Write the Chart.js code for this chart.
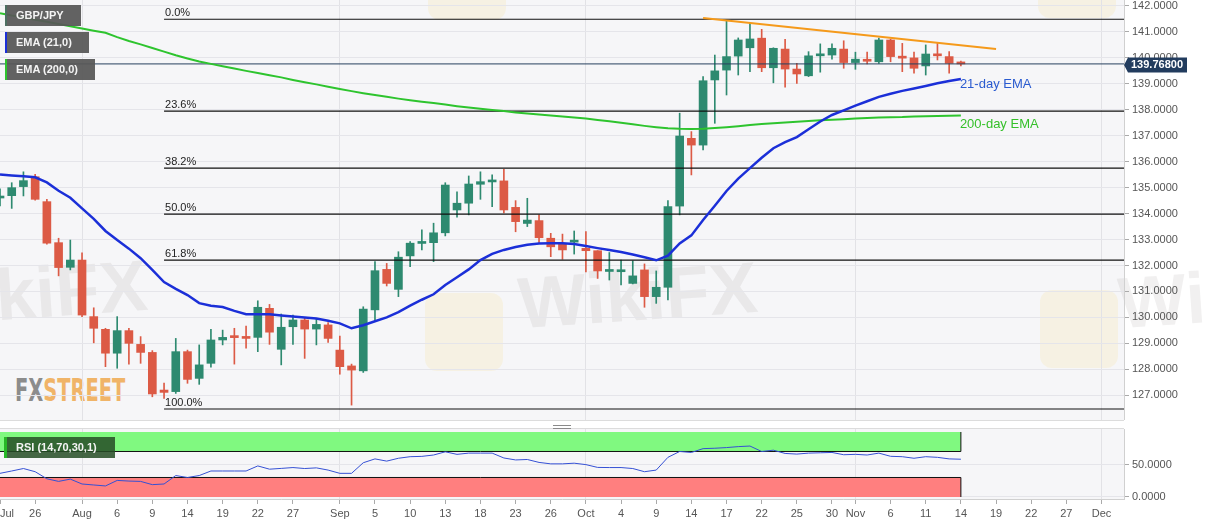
<!DOCTYPE html>
<html>
<head>
<meta charset="utf-8">
<script src="https://cdn.jsdelivr.net/npm/chart.js@4.4.0/dist/chart.umd.min.js"></script>
<style>
html,body{margin:0;padding:0;background:#fff;width:1207px;height:526px;overflow:hidden;}
#wrap{position:relative;width:1207px;height:526px;font-family:'Liberation Sans',Arial,sans-serif;}
.pane{position:absolute;background:#f6f6f8;}
canvas{position:absolute;left:0;}
.wm{position:absolute;font:bold 72px 'Liberation Sans',Arial,sans-serif;color:rgba(140,130,130,0.12);transform:rotate(-4deg);white-space:nowrap;}
.logo{position:absolute;width:78px;height:78px;border-radius:12px;background:rgba(250,215,120,0.16);}
.tag{position:absolute;height:21px;box-sizing:border-box;color:#f4f4f4;font:bold 11px 'Liberation Sans',Arial,sans-serif;line-height:21px;padding-left:9px;background:rgba(88,88,88,0.94);white-space:nowrap;z-index:5;}
#fxs{position:absolute;left:15px;top:371px;font:bold 32px 'Liberation Sans Narrow','DejaVu Sans Condensed',sans-serif;white-space:nowrap;transform-origin:0 0;}
#handle{position:absolute;left:553px;top:425px;width:18px;height:2px;border-top:1px solid #8a8a8a;border-bottom:1px solid #8a8a8a;}
</style>
</head>
<body>
<div id="wrap">
  <div class="pane" style="left:0;top:0;width:1124px;height:420px;border-bottom:1px solid #dcdcdc;"></div>
  <div class="pane" style="left:0;top:428px;width:1124px;height:71px;border-top:1px solid #dcdcdc;"></div>
  <div class="logo" style="left:428px;top:-58px;"></div>
  <div class="logo" style="left:1038px;top:-60px;"></div>
  <div class="logo" style="left:425px;top:293px;"></div>
  <div class="logo" style="left:1040px;top:290px;"></div>
  <div class="wm" style="left:-92px;top:252px;">WikiFX</div>
  <div class="wm" style="left:518px;top:254px;">WikiFX</div>
  <div class="wm" style="left:1118px;top:254px;">WikiFX</div>
  <div id="fxs"><span style="color:#8c8c8c">FX</span><span style="color:#f0b468">STREET</span></div>
  <div id="handle"></div>
  <canvas id="main" width="1207" height="420" style="top:0;width:1207px;height:420px;"></canvas>
  <canvas id="rsiChart" width="1207" height="102" style="top:424px;width:1207px;height:102px;"></canvas>
  <div class="tag" style="left:5px;top:5px;width:76px;border-left:2px solid #4d6f62;">GBP/JPY</div>
  <div class="tag" style="left:5px;top:32px;width:84px;border-left:2px solid #1b2fd8;">EMA (21,0)</div>
  <div class="tag" style="left:5px;top:59px;width:90px;border-left:2px solid #2ec42e;">EMA (200,0)</div>
  <div class="tag" style="left:4px;top:437px;width:111px;border-left:3px solid #27b827;background:rgba(38,78,38,0.86);">RSI (14,70,30,1)</div>
</div>
<script>
// ---------- DATA ----------
const candleStart = '2019-07-23';
const candleEnd = '2019-11-14';
const axisEnd = '2019-12-06';

const opens = [134.60,134.69,135.04,135.42,134.46,132.88,131.93,132.21,130.03,129.54,128.62,129.49,128.96,128.65,127.20,127.14,128.68,127.65,128.23,129.13,129.25,129.22,129.23,130.35,128.77,129.64,129.90,129.55,129.71,128.74,128.13,127.94,130.29,131.85,131.08,132.37,132.85,132.88,133.26,134.14,134.40,135.13,135.22,135.26,134.24,133.62,133.73,133.05,132.83,132.90,132.66,132.57,131.77,131.76,131.31,131.83,130.80,131.16,134.29,136.90,136.64,139.15,139.53,140.07,140.39,140.76,139.62,140.34,139.57,139.31,140.08,140.11,140.34,139.82,139.92,139.85,140.69,140.05,140.00,139.69,140.15,140.05,139.83];
const highs = [134.95,135.19,135.61,135.51,134.55,133.05,132.98,132.49,130.37,129.58,130.03,129.58,129.26,128.72,127.47,129.19,128.74,128.94,129.54,129.51,129.58,129.67,130.64,130.50,130.13,130.09,130.00,129.93,129.80,129.28,128.20,130.41,132.15,132.08,132.53,132.92,133.37,133.63,135.19,134.84,135.45,135.61,135.49,135.71,134.50,134.59,133.95,133.24,133.21,133.33,133.31,132.57,132.50,132.21,132.18,132.06,131.79,134.50,137.87,137.16,139.28,140.11,141.46,140.77,141.33,141.10,140.39,140.72,139.79,140.24,140.54,140.54,140.66,140.22,140.22,140.76,140.72,140.56,140.22,140.50,140.56,140.24,139.88];
const lows = [134.30,134.20,134.68,134.52,132.82,131.60,131.83,130.03,129.02,128.10,128.04,128.20,128.23,126.94,126.88,127.07,127.46,127.42,128.08,128.94,128.20,128.81,128.68,128.96,128.17,128.96,128.42,128.94,129.04,127.81,126.62,127.88,129.87,131.21,130.80,131.95,132.60,132.15,133.14,133.86,133.95,134.55,134.27,134.03,133.30,133.50,132.88,132.34,132.24,132.44,131.75,131.50,131.44,131.25,131.29,130.39,130.54,130.67,133.95,135.49,136.45,137.48,138.57,139.34,139.47,139.47,139.04,138.87,139.02,139.28,139.45,139.95,139.60,139.56,139.77,139.79,139.85,139.47,139.41,139.34,139.92,139.41,139.69];
const closes = [134.65,135.00,135.27,134.55,132.86,131.92,132.21,130.09,129.58,128.62,129.49,129.00,128.65,127.05,127.11,128.68,127.61,128.17,129.13,129.23,129.22,129.19,130.39,129.43,129.62,129.90,129.55,129.73,129.19,128.10,127.97,130.32,131.80,131.31,132.32,132.86,132.90,133.26,135.10,134.40,135.14,135.23,135.25,134.14,133.69,133.75,133.07,132.72,132.60,132.95,132.57,131.79,131.80,131.82,131.60,130.80,131.16,134.27,136.99,136.64,139.12,139.50,140.05,140.69,140.73,139.62,140.37,139.57,139.38,140.08,140.13,140.37,139.82,139.95,139.87,140.69,140.05,139.99,139.60,140.15,140.08,139.79,139.768];
const ema21 = [135.51,135.47,135.44,135.40,135.20,134.88,134.61,134.20,133.80,133.33,132.98,132.65,132.28,131.83,131.36,131.10,130.86,130.55,130.45,130.40,130.25,130.12,130.12,130.12,130.07,130.03,130.00,129.96,129.87,129.77,129.58,129.70,129.85,130.00,130.20,130.45,130.68,130.89,131.25,131.55,131.85,132.21,132.45,132.60,132.71,132.80,132.85,132.86,132.86,132.83,132.75,132.67,132.60,132.52,132.42,132.32,132.20,132.38,132.85,133.16,133.75,134.30,134.87,135.35,135.75,136.15,136.52,136.75,136.95,137.25,137.55,137.80,137.98,138.16,138.33,138.50,138.62,138.73,138.82,138.92,139.02,139.11,139.19];
const ema200 = [141.72,141.63,141.56,141.47,141.39,141.31,141.22,141.13,141.05,140.97,140.80,140.65,140.52,140.38,140.24,140.10,139.98,139.86,139.77,139.68,139.59,139.50,139.42,139.33,139.25,139.15,139.06,138.98,138.89,138.80,138.72,138.64,138.57,138.50,138.43,138.37,138.31,138.26,138.20,138.14,138.09,138.04,137.99,137.95,137.90,137.86,137.82,137.78,137.74,137.70,137.66,137.61,137.56,137.50,137.44,137.38,137.33,137.29,137.27,137.26,137.27,137.30,137.33,137.37,137.41,137.45,137.48,137.51,137.54,137.57,137.60,137.62,137.64,137.66,137.68,137.70,137.71,137.72,137.74,137.75,137.76,137.77,137.78];
const rsi = [36.4,40,43.8,38.9,28,24,27.5,20,18.5,17,25.5,24.5,24,19,20,33,30,33,40,40,40,40,47.8,42.8,44,45.3,43.8,44.8,41.4,36.4,36.4,52.7,58.6,55.2,59.6,62,62.5,64.6,69.5,65.6,67.5,67.5,67.5,60,57,57.7,53.2,51,51,52,49.8,45.5,45.3,45.3,43.8,38.9,41.4,61,70,68.5,74.4,75,76,77.5,78.4,70,72,67,66,67.5,68,68.5,65,65.6,64.6,67.5,62.6,62,59.6,62,61,58.6,58.1];

const fibHigh = 141.49;
const fibLow = 126.47;
const fibStartDate = '2019-08-12';
const fibRatios = [0, 0.236, 0.382, 0.5, 0.618, 1];
const fibLabels = ['0.0%','23.6%','38.2%','50.0%','61.8%','100.0%'];

const trendDates = ['2019-10-15','2019-11-19'];
const trendValues = [141.54, 140.34];
const lastPrice = 139.768;

const priceTicks = [127,128,129,130,131,132,133,134,135,136,137,138,139,140,141,142];
const rsiTicks = [0, 50];
const rsiBandTop = 100, rsiOverbought = 70, rsiOversold = 30, rsiBandBottom = 0;

const tickDates = ['2019-07-23','2019-07-26','2019-08-01','2019-08-06','2019-08-09','2019-08-14','2019-08-19','2019-08-22','2019-08-27','2019-09-02','2019-09-05','2019-09-10','2019-09-13','2019-09-18','2019-09-23','2019-09-26','2019-10-01','2019-10-04','2019-10-09','2019-10-14','2019-10-17','2019-10-22','2019-10-25','2019-10-30','2019-11-01','2019-11-06','2019-11-11','2019-11-14','2019-11-19','2019-11-22','2019-11-27','2019-12-02'];
const tickLabels = ['Jul','26','Aug','6','9','14','19','22','27','Sep','5','10','13','18','23','26','Oct','4','9','14','17','22','25','30','Nov','6','11','14','19','22','27','Dec'];
const monthNames = ['Jul','Aug','Sep','Oct','Nov','Dec'];

// ---------- HELPERS ----------
function weekdays(start, end){
  const out=[]; const d=new Date(start+'T00:00:00Z'); const e=new Date(end+'T00:00:00Z');
  while(d<=e){ const w=d.getUTCDay(); if(w!==0&&w!==6) out.push(d.toISOString().slice(0,10)); d.setUTCDate(d.getUTCDate()+1); }
  return out;
}
const dates = weekdays(candleStart, candleEnd);
const axisDays = weekdays(candleStart, axisEnd);
const X = d => axisDays.indexOf(d);
const xMin = 0, xMax = 95.92;
const tickIdx = tickDates.map(X);
const lastX = X(candleEnd);
const fibStart = X(fibStartDate);
const fibLevels = fibRatios.map(r => fibHigh - r*(fibHigh - fibLow));

const UP='#2e8a70', DOWN='#dc5a45';
const candleColor = dates.map((d,i)=> closes[i] >= opens[i] ? UP : DOWN);
const FONT = "'Liberation Sans', Arial, sans-serif";
Chart.defaults.font.family = FONT;
Chart.defaults.font.size = 11;
Chart.defaults.color = '#555';

const isMonth = i => monthNames.includes(tickLabels[i]) && i > 0;

const xScaleCommon = {
  type:'linear', min:xMin, max:xMax, offset:false,
  afterBuildTicks: s => { s.ticks = tickIdx.map(v => ({value:v})); },
};

// ---------- MAIN CHART ----------
const overlay = {
  id:'overlay',
  afterDatasetsDraw(chart){
    const {ctx, scales:{x,y}} = chart;
    ctx.save();
    ctx.font = "11px " + FONT;
    ctx.fillStyle = '#222';
    ctx.textAlign='left'; ctx.textBaseline='alphabetic';
    fibLevels.forEach((lv,i)=>{
      ctx.fillText(fibLabels[i], x.getPixelForValue(fibStart)+1, y.getPixelForValue(lv)-3);
    });
    ctx.font = "13px " + FONT;
    ctx.textBaseline='middle';
    ctx.fillStyle = '#2a5bd0';
    ctx.fillText('21-day EMA', x.getPixelForValue(lastX)-1, y.getPixelForValue(ema21[ema21.length-1])+6);
    ctx.fillStyle = '#35c02a';
    ctx.fillText('200-day EMA', x.getPixelForValue(lastX)-1, y.getPixelForValue(ema200[ema200.length-1])+9);
    ctx.restore();
  },
  afterDraw(chart){
    const {ctx, chartArea, scales:{y}} = chart;
    const py = y.getPixelForValue(lastPrice)+1;
    const x0 = chartArea.right;
    ctx.save();
    ctx.fillStyle = '#223c5e';
    ctx.beginPath();
    ctx.moveTo(x0, py);
    ctx.lineTo(x0+4, py-7.5);
    ctx.lineTo(x0+63, py-7.5);
    ctx.lineTo(x0+63, py+7.5);
    ctx.lineTo(x0+4, py+7.5);
    ctx.closePath(); ctx.fill();
    ctx.fillStyle='#fff'; ctx.font = "bold 11px " + FONT;
    ctx.textAlign='left'; ctx.textBaseline='middle';
    ctx.fillText(lastPrice.toFixed(5), x0+7, py+0.5);
    ctx.restore();
  }
};

const lineDs = (pts, color, width, order, extra) => Object.assign({
  type:'line', data:pts, borderColor:color, borderWidth:width, pointRadius:0, tension:0, fill:false, order
}, extra||{});

const fibDatasets = fibLevels.map(lv => lineDs([{x:fibStart,y:lv},{x:xMax,y:lv}], '#111', 1.2, 3));

new Chart(document.getElementById('main'), {
  type:'bar',
  data:{ datasets:[
    {type:'bar', data: dates.map((d,i)=>({x:X(d), y:[lows[i],highs[i]]})), backgroundColor:candleColor, barThickness:1, grouped:false, order:7},
    {type:'bar', data: dates.map((d,i)=>({x:X(d), y:[opens[i],closes[i]]})), backgroundColor:candleColor, barThickness:8, grouped:false, minBarLength:2, order:6},
    ...fibDatasets,
    lineDs([{x:xMin,y:lastPrice},{x:xMax,y:lastPrice}], '#27405f', 1, 4),
    lineDs(dates.map((d,i)=>({x:X(d), y:ema200[i]})), '#2ec42e', 2, 2),
    lineDs(dates.map((d,i)=>({x:X(d), y:ema21[i]})), '#1b2fd8', 2.5, 1),
    lineDs(trendDates.map((d,i)=>({x:X(d), y:trendValues[i]})), '#f59a1b', 2, 0),
  ]},
  options:{
    responsive:false, animation:false, devicePixelRatio:1,
    layout:{padding:0},
    plugins:{legend:{display:false}, tooltip:{enabled:false}},
    scales:{
      x: Object.assign({}, xScaleCommon, {
        afterFit: s => { s.height = 0; s.paddingLeft = 0; s.paddingRight = 0; },
        ticks:{display:false},
        grid:{color: c => isMonth(c.index) ? '#e2e2e6' : 'rgba(0,0,0,0)', drawTicks:false, offset:false},
        border:{display:false}
      }),
      y:{
        position:'right', min:126.046, max:142.231,
        afterBuildTicks: s => { s.ticks = priceTicks.map(v=>({value:v})); },
        afterFit: s => { s.width = 83; s.paddingTop = 0; s.paddingBottom = 0; },
        ticks:{callback: v => Number(v).toFixed(4), color:'#555', padding:3, font:{size:11}},
        grid:{color:'#e5e5ea', tickColor:'#aaa', tickLength:5},
        border:{color:'#d0d0d0'}
      }
    }
  },
  plugins:[overlay]
});

// ---------- RSI CHART ----------
const rsiOverlay = {
  id:'rsiOverlay',
  afterDraw(chart){
    const {ctx, chartArea, scales:{x}} = chart;
    ctx.save();
    ctx.font = "11px " + FONT; ctx.fillStyle = '#555';
    ctx.textAlign='left'; ctx.textBaseline='middle';
    ctx.fillText(tickLabels[0], x.getPixelForValue(tickIdx[0]), chartArea.bottom + 14.5);
    ctx.restore();
  }
};

new Chart(document.getElementById('rsiChart'), {
  type:'line',
  data:{ datasets:[
    lineDs([{x:xMin,y:rsiBandTop},{x:lastX,y:rsiBandTop}], 'rgba(0,0,0,0)', 0, 10),
    lineDs([{x:xMin,y:rsiOverbought},{x:lastX,y:rsiOverbought}], '#111', 1, 9, {fill:'-1', backgroundColor:'#80f980'}),
    lineDs([{x:xMin,y:rsiBandBottom},{x:lastX,y:rsiBandBottom}], 'rgba(0,0,0,0)', 0, 8),
    lineDs([{x:xMin,y:rsiOversold},{x:lastX,y:rsiOversold}], '#111', 1, 7, {fill:'-1', backgroundColor:'#ff7f7f'}),
    lineDs([{x:lastX,y:rsiOverbought},{x:lastX,y:rsiBandTop}], '#111', 1, 6),
    lineDs([{x:lastX,y:rsiBandBottom},{x:lastX,y:rsiOversold}], '#111', 1, 6),
    lineDs(dates.map((d,i)=>({x:X(d), y:rsi[i]})), '#3550d4', 1, 0),
  ]},
  options:{
    responsive:false, animation:false, devicePixelRatio:1,
    layout:{padding:{top:5, left:0, right:0, bottom:0}},
    plugins:{legend:{display:false}, tooltip:{enabled:false}},
    scales:{
      x: Object.assign({}, xScaleCommon, {
        afterFit: s => { s.height = 27; s.paddingLeft = 0; s.paddingRight = 0; },
        ticks:{callback:(v,i)=> i===0 ? '' : tickLabels[i], autoSkip:false, maxRotation:0, padding:3, color:'#555', font:{size:11}},
        grid:{color: c => isMonth(c.index) ? '#e2e2e6' : 'rgba(0,0,0,0)', tickColor:'#aaa', tickLength:5, offset:false},
        border:{color:'#d0d0d0'}
      }),
      y:{
        position:'right', min:-3.08, max:104.6,
        afterBuildTicks: s => { s.ticks = rsiTicks.map(v=>({value:v})); },
        afterFit: s => { s.width = 83; s.paddingTop = 0; s.paddingBottom = 0; },
        ticks:{callback: v => Number(v).toFixed(4), color:'#555', padding:3, font:{size:11}},
        grid:{color:'#e5e5ea', tickColor:'#aaa', tickLength:5},
        border:{color:'#d0d0d0'}
      }
    }
  },
  plugins:[rsiOverlay]
});

// fit the FXSTREET logo text to its width
const fx = document.getElementById('fxs');
fx.style.transform = 'scaleX(' + (110 / fx.offsetWidth) + ')';
</script>
</body>
</html>
